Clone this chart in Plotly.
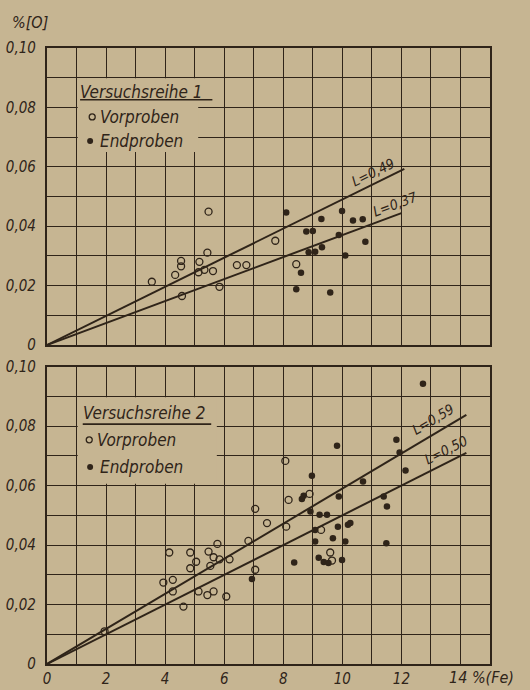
import math
import plotly.graph_objects as go

INK = "#2f2419"
PAPER = "#c6b592"
FONT = "Liberation Sans Narrow, DejaVu Sans Condensed, Arial Narrow, sans-serif"

# ---- axes -------------------------------------------------------------
x_grid = list(range(16))                       # % Fe, grid every 1
x_labels = ["0", "", "2", "", "4", "", "6", "", "8", "", "10", "", "12", "", "", ""]
y_grid = [0.00, 0.01, 0.02, 0.03, 0.04, 0.05, 0.06, 0.07, 0.08, 0.09, 0.10]
y_labels = ["0", "", "0,02", "", "0,04", "", "0,06", "", "0,08", "", "0,10"]

# ---- Versuchsreihe 1 --------------------------------------------------
r1_vor_fe = [3.55, 4.34, 4.54, 4.54, 5.16, 5.43, 5.13, 5.33, 5.62, 5.47,
             6.43, 6.75, 7.73, 8.44, 4.57, 5.84]
r1_vor_o = [0.0213, 0.0236, 0.0283, 0.0265, 0.0280, 0.0311, 0.0245, 0.0253,
            0.0249, 0.0449, 0.0269, 0.0269, 0.0351, 0.0272, 0.0165, 0.0196]
r1_end_fe = [8.10, 9.29, 9.99, 10.36, 10.69, 8.78, 9.00, 9.88, 10.78, 8.86,
             9.08, 9.31, 10.10, 8.60, 8.44, 9.59]
r1_end_o = [0.0446, 0.0424, 0.0451, 0.0419, 0.0423, 0.0382, 0.0384, 0.0370,
            0.0348, 0.0312, 0.0314, 0.0329, 0.0301, 0.0243, 0.0188, 0.0177]
r1_L = [0.49, 0.37]
r1_line_end = [12.1, 12.0]
r1_L_text = ["L=0,49", "L=0,37"]
r1_L_pos = [(11.05, 0.0583), (11.8, 0.0475)]

# ---- Versuchsreihe 2 --------------------------------------------------
r2_vor_fe = [8.18, 7.05, 7.45, 8.10, 6.82, 4.14, 4.85, 5.77, 5.47, 5.64,
             5.05, 5.84, 6.18, 5.53, 4.85, 4.26, 4.26, 5.13, 5.43, 5.64,
             6.07, 4.62, 7.05, 3.94, 8.07, 8.89, 9.28, 9.59, 9.65, 1.95]
r2_vor_o = [0.0552, 0.0522, 0.0474, 0.0462, 0.0414, 0.0375, 0.0375, 0.0404,
            0.0378, 0.0359, 0.0344, 0.0352, 0.0352, 0.0330, 0.0322, 0.0283,
            0.0244, 0.0244, 0.0232, 0.0244, 0.0227, 0.0193, 0.0317, 0.0274,
            0.0683, 0.0572, 0.0451, 0.0375, 0.0348, 0.0110]
r2_end_fe = [12.73, 11.83, 11.94, 12.14, 9.82, 10.70, 11.40, 11.51, 8.97, 9.88,
             8.69, 8.63, 8.92, 9.23, 9.48, 9.85, 10.19, 10.27, 9.08, 9.08,
             9.68, 10.10, 11.49, 8.37, 9.20, 9.37, 9.53, 9.99, 6.94]
r2_end_o = [0.0943, 0.0754, 0.0711, 0.0651, 0.0734, 0.0614, 0.0563, 0.0530,
            0.0633, 0.0563, 0.0566, 0.0555, 0.0513, 0.0502, 0.0502, 0.0462,
            0.0468, 0.0474, 0.0451, 0.0412, 0.0423, 0.0412, 0.0406, 0.0341,
            0.0357, 0.0343, 0.0340, 0.0350, 0.0286]
r2_L = [0.59, 0.50]
r2_line_end = [14.2, 14.2]
r2_L_text = ["L=0,59", "L=0,50"]
r2_L_pos = [(13.08, 0.0825), (13.5, 0.0721)]

# ---- legend block positions (data units) -------------------------------
legend_specs = [
    dict(n=1, title=(1.05, 0.0853), line_y=0.0826, line_x=(1.12, 5.6),
         vor=(1.53, 0.0768), end=(1.46, 0.0687),
         boxes=[(1.0, 5.12, 0.065, 0.0897), (1.0, 5.65, 0.0835, 0.0897)]),
    dict(n=2, title=(1.15, 0.0843), line_y=0.0807, line_x=(1.21, 5.56),
         vor=(1.43, 0.0754), end=(1.46, 0.0663),
         boxes=[(1.0, 5.75, 0.0606, 0.0897)]),
]

W, H = 530, 690
ML, MR, MT, MB = 47, 40, 48, 26
plot_w = W - ML - MR
plot_h = H - MT - MB
top_domain = [(664 - 345) / plot_h, 1.0]
bot_domain = [0.0, (664 - 366.7) / plot_h]
px_per_x = plot_w / 15.0
px_per_y = (345 - 48) / 0.10

fig = go.Figure()

panels = [
    ("x", "y", r1_vor_fe, r1_vor_o, r1_end_fe, r1_end_o, r1_L, r1_line_end, r1_L_text, r1_L_pos),
    ("x2", "y2", r2_vor_fe, r2_vor_o, r2_end_fe, r2_end_o, r2_L, r2_line_end, r2_L_text, r2_L_pos),
]

for xa, ya, vfe, vo, efe, eo, Ls, ends, ltxt, lpos in panels:
    for L, xe in zip(Ls, ends):
        fig.add_trace(go.Scatter(
            x=[0, xe], y=[0, L * xe / 100], xaxis=xa, yaxis=ya, mode="lines",
            line=dict(color=INK, width=2), showlegend=False, hoverinfo="skip"))
    fig.add_trace(go.Scatter(
        x=vfe, y=vo, xaxis=xa, yaxis=ya, mode="markers", name="Vorproben",
        marker=dict(symbol="circle-open", size=7, color=INK, line=dict(width=1.3, color=INK)),
        showlegend=False))
    fig.add_trace(go.Scatter(
        x=efe, y=eo, xaxis=xa, yaxis=ya, mode="markers", name="Endproben",
        marker=dict(symbol="circle", size=6.5, color=INK),
        showlegend=False))
    for L, t, (tx, ty) in zip(Ls, ltxt, lpos):
        ang = math.degrees(math.atan(L / 100 * px_per_y / px_per_x))
        fig.add_annotation(x=tx, y=ty, xref=xa, yref=ya, text=t, showarrow=False,
                           textangle=-ang,
                           font=dict(family=FONT, size=14, color=INK, style="italic"))

# legend blocks drawn inside each panel
for spec, (xa, ya) in zip(legend_specs, [("x", "y"), ("x2", "y2")]):
    for x0, x1, y0, y1 in spec["boxes"]:
        fig.add_shape(type="rect", xref=xa, yref=ya, x0=x0 + 0.04, x1=x1, y0=y0, y1=y1,
                      fillcolor=PAPER, line=dict(width=0), layer="between")
    fig.add_annotation(x=spec["title"][0], y=spec["title"][1], xref=xa, yref=ya,
                       text=f"Versuchsreihe {spec['n']}", showarrow=False,
                       xanchor="left", yanchor="middle",
                       font=dict(family=FONT, size=17, color=INK, style="italic"))
    fig.add_shape(type="line", xref=xa, yref=ya, x0=spec["line_x"][0], x1=spec["line_x"][1],
                  y0=spec["line_y"], y1=spec["line_y"], line=dict(color=INK, width=1.6),
                  layer="above")
    fig.add_trace(go.Scatter(
        x=[spec["vor"][0]], y=[spec["vor"][1]], xaxis=xa, yaxis=ya, mode="markers",
        marker=dict(symbol="circle-open", size=6, color=INK, line=dict(width=1.3, color=INK)),
        showlegend=False, hoverinfo="skip"))
    fig.add_trace(go.Scatter(
        x=[spec["end"][0]], y=[spec["end"][1]], xaxis=xa, yaxis=ya, mode="markers",
        marker=dict(symbol="circle", size=6, color=INK),
        showlegend=False, hoverinfo="skip"))
    fig.add_annotation(x=spec["vor"][0] + 0.2, y=spec["vor"][1], xref=xa, yref=ya,
                       text="Vorproben", showarrow=False, xanchor="left", yanchor="middle",
                       font=dict(family=FONT, size=17, color=INK, style="italic"))
    fig.add_annotation(x=spec["end"][0] + 0.27, y=spec["end"][1], xref=xa, yref=ya,
                       text="Endproben", showarrow=False, xanchor="left", yanchor="middle",
                       font=dict(family=FONT, size=17, color=INK, style="italic"))

tick_font = dict(family=FONT, size=15, color=INK, style="italic")
common_x = dict(range=[0, 15], tickmode="array", tickvals=x_grid, ticktext=x_labels,
                showgrid=True, gridcolor=INK, gridwidth=1.4, zeroline=False,
                showline=True, linecolor=INK, linewidth=2.2, mirror=True, ticks="",
                tickfont=tick_font, ticklabelstandoff=0, automargin=False)
common_y = dict(range=[0, 0.10], tickmode="array", tickvals=y_grid, ticktext=y_labels,
                showgrid=True, gridcolor=INK, gridwidth=1.4, zeroline=False,
                showline=True, linecolor=INK, linewidth=2.2, mirror=True, ticks="",
                tickfont=tick_font, ticklabelstandoff=6, automargin=False)

fig.update_layout(
    width=W, height=H,
    margin=dict(l=ML, r=MR, t=MT, b=MB),
    paper_bgcolor=PAPER, plot_bgcolor=PAPER,
    xaxis=dict(common_x, domain=[0, 1], anchor="y", showticklabels=False),
    yaxis=dict(common_y, domain=top_domain, anchor="x"),
    xaxis2=dict(common_x, domain=[0, 1], anchor="y2"),
    yaxis2=dict(common_y, domain=bot_domain, anchor="x2"),
    showlegend=False,
)

# axis captions
fig.add_annotation(x=(30 - ML) / plot_w, y=(664 - 22) / plot_h, xref="paper", yref="paper",
                   text="%[O]", showarrow=False, xanchor="center", yanchor="middle",
                   font=dict(family=FONT, size=16, color=INK, style="italic"))
fig.add_annotation(x=13.55, y=-13 / plot_h, xref="x2", yref="paper",
                   text="14 %(Fe)", showarrow=False, xanchor="left", yanchor="middle",
                   font=dict(family=FONT, size=16, color=INK, style="italic"))

fig.write_html("out.html")
